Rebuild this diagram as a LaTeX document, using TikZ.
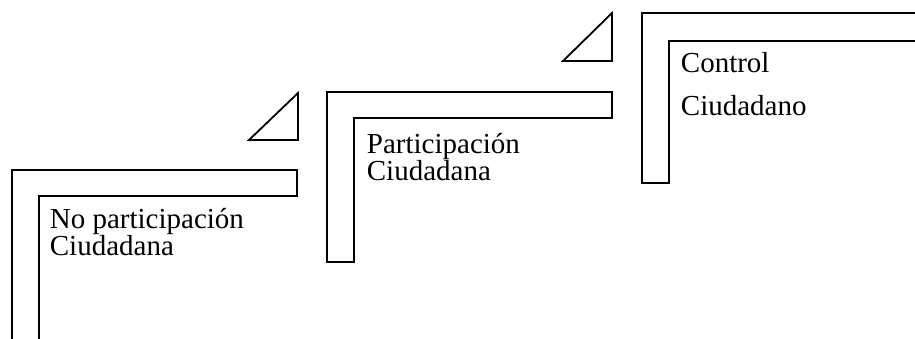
\documentclass[tikz,border=0pt]{standalone}
\usepackage{fontspec}
\setmainfont{Liberation Serif}

\begin{document}
\begin{tikzpicture}[x=1pt, y=-1pt, line width=1.8pt,
    steplabel/.style={anchor=base west, inner sep=0pt, align=left,
      font=\fontsize{29}{27}\selectfont}]
    \useasboundingbox (0,0) rectangle (915,338);

    % stairs
    \draw (12,340) -- (12,170) -- (297,170) -- (297,196) -- (39,196) -- (39,340);
    \draw (327,262) -- (327,92) -- (612,92) -- (612,118) -- (354,118) -- (354,262) -- cycle;
    \draw (917,13) -- (642,13) -- (642,183) -- (669,183) -- (669,41) -- (917,41);

    % small triangles
    \draw (249,140) -- (298,93) -- (298,140) -- cycle;
    \draw (563,61) -- (612,13) -- (612,61) -- cycle;

    % labels (base = last line)
    \node[steplabel] (no_participacion) at (49, 255)
      {No participación\\Ciudadana};
    \node[steplabel] (participacion) at (366, 180)
      {Participación\\Ciudadana};
    \node[steplabel] (control) at (680, 115)
      {Control\\[16pt]Ciudadano};
\end{tikzpicture}
\end{document}
